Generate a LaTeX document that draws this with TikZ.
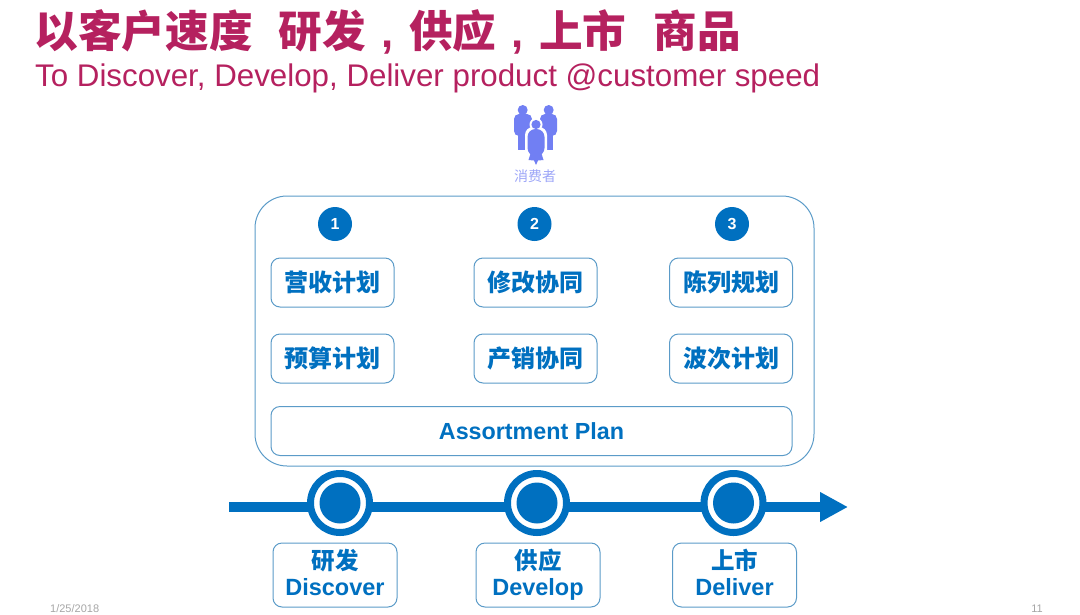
\documentclass[tikz,border=0pt]{standalone}
\usepackage{fontspec}
\usetikzlibrary{arrows.meta}
\setmainfont{Liberation Sans}
\newfontfamily\cjk{Noto Sans CJK SC}
\definecolor{planblue}{HTML}{0070C0}
\definecolor{edgeblue}{HTML}{5B9BC8}
\definecolor{titlered}{HTML}{B5215F}
\definecolor{crowd}{HTML}{717FF3}
\newcommand{\titlecomma}{\hspace{15.5pt}{\rmfamily,}\hspace{15.5pt}}
\tikzset{
  planbox/.style={draw=edgeblue, line width=1pt, rounded corners=9pt, fill=white,
    minimum width=123pt, minimum height=49pt, inner sep=0pt,
    text=planblue, font=\fontsize{24}{24}\cjk\bfseries},
  stagebox/.style={planbox, minimum width=124pt, minimum height=64pt, align=center,
    font=\fontsize{23.5}{26}\bfseries},
  badge/.style={circle, fill=planblue, minimum size=34pt, inner sep=0pt,
    text=white, font=\fontsize{16}{16}\bfseries},
  stage/.style={circle, draw=planblue, line width=7pt, fill=planblue, minimum size=59pt, inner sep=0pt,
    path picture={\fill[white] (path picture bounding box.center) circle (26.5pt);
      \fill[planblue] (path picture bounding box.center) circle (20.5pt);}},
  footer/.style={text=gray!70, font=\fontsize{11}{11}\selectfont, inner sep=0pt}
}
\begin{document}
\begin{tikzpicture}[x=1pt,y=-1pt]
\useasboundingbox (0,0) rectangle (1080,614);
% heading
\node[anchor=west, inner sep=0pt, text=titlered, font=\fontsize{43.6}{44}\cjk\bfseries] (title) at (34.5,32)
  {以客户速度\hspace{26pt}研发\titlecomma 供应\titlecomma 上市\hspace{27pt}商品};
\node[anchor=west, inner sep=0pt, text=titlered, font=\fontsize{31.3}{32}\selectfont] (subtitle) at (35,78)
  {To Discover, Develop, Deliver product @customer speed};
% consumers
\fill[crowd] (522.7,110) circle (5) (548.7,110) circle (5);
\fill[crowd, rounded corners=5pt] (514,114) rectangle (532,136);
\fill[crowd] (518,125) rectangle (532,150);
\fill[crowd, rounded corners=5pt] (540,114) rectangle (557,136);
\fill[crowd] (540,125) rectangle (553,150);
\fill[white] (536,124.5) circle (6.5);
\fill[white, rounded corners=8pt] (525,127) rectangle (547,158);
\fill[crowd] (536,124.5) circle (4.6);
\fill[crowd, rounded corners=8pt] (527.5,129) rectangle (544.5,156);
\fill[crowd] (531,152) -- (541,152) -- (543.5,160) -- (538,160.5) -- (536,165) -- (534,160.5) -- (528.5,160) -- cycle;
\node[text=crowd!70, inner sep=0pt, font=\fontsize{14}{14}\cjk] (consumer) at (535,176) {消费者};
% main panel
\node[draw=edgeblue, line width=1pt, rounded corners=32pt, minimum width=559pt, minimum height=270pt, inner sep=0pt] (panel) at (534.5,331) {};
\node[badge] (one) at (335,224) {1};
\node[badge] (two) at (534.5,224) {2};
\node[badge] (three) at (732,224) {3};
\node[planbox] (revenue) at (332.5,282.5) {\raisebox{1pt}{营收计划}};
\node[planbox] (revise) at (535.5,282.5) {\raisebox{1pt}{修改协同}};
\node[planbox] (display) at (731,282.5) {\raisebox{1pt}{陈列规划}};
\node[planbox] (budget) at (332.5,358.5) {\raisebox{1pt}{预算计划}};
\node[planbox] (sales) at (535.5,358.5) {\raisebox{1pt}{产销协同}};
\node[planbox] (wave) at (731,358.5) {\raisebox{1pt}{波次计划}};
\node[planbox, minimum width=521pt, font=\fontsize{23.3}{24}\bfseries] (assort) at (531.5,431) {Assortment Plan};
% timeline
\coordinate (start) at (229,507);
\coordinate (finish) at (848,507);
\draw[planblue, line width=10pt, -{Triangle[length=28pt,width=28pt]}] (start) -- (finish);
\node[stage] (discover) at (340,503) {};
\node[stage] (develop) at (537,503) {};
\node[stage] (deliver) at (733.5,503) {};
\node[stagebox] (discoverbox) at (335,575) {{\cjk 研发}\\Discover\vphantom{p}};
\node[stagebox] (developbox) at (538,575) {{\cjk 供应}\\Develop};
\node[stagebox] (deliverbox) at (734.5,575) {{\cjk 上市}\\Deliver\vphantom{p}};
% footer
\node[footer, anchor=west] (date) at (50,609) {1/25/2018};
\node[footer, anchor=east] (page) at (1043,609) {11};
\end{tikzpicture}
\end{document}
